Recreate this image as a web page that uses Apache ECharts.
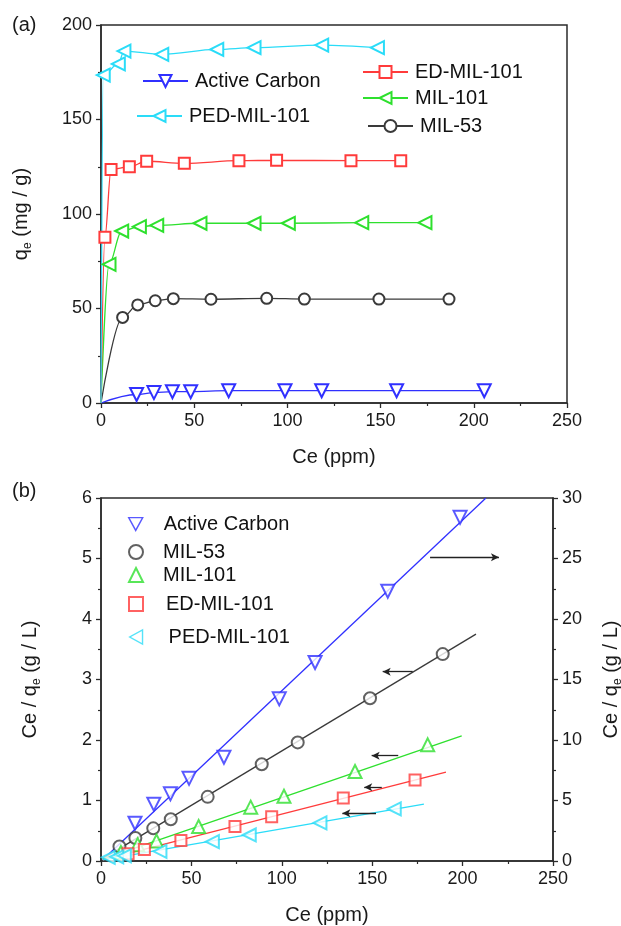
<!DOCTYPE html>
<html>
<head>
<meta charset="utf-8">
<script src="https://cdn.jsdelivr.net/npm/echarts@6/dist/echarts.min.js"></script>
<style>
  html, body { margin: 0; padding: 0; background: #fff; }
  #chart { width: 621px; height: 926px; }
</style>
</head>
<body>
<div id="chart"></div>
<script>
// ---- (a) adsorption isotherms: [Ce (ppm), qe (mg/g)] ----
const isoActiveCarbon = [[0, 0], [19.1, 4.5], [28.4, 5.5], [38.3, 6.0], [48.1, 6.0], [68.5, 6.5], [98.7, 6.5], [118.4, 6.5], [158.6, 6.5], [205.6, 6.5]];
const isoPED = [[0, 0], [1.2, 173.5], [9.3, 179.4], [12.3, 186.2], [32.6, 184.5], [62.1, 187.1], [82.1, 188.0], [118.4, 189.4], [148.3, 188.0]];
const isoED = [[0, 0], [2.1, 87.7], [5.4, 123.6], [15.2, 125.0], [24.5, 127.9], [44.7, 126.8], [74.0, 128.2], [94.2, 128.4], [134.1, 128.2], [160.8, 128.2]];
const isoMIL101 = [[0, 0], [4.3, 73.4], [11.1, 91.0], [20.6, 93.3], [29.9, 94.0], [53.1, 95.1], [82.1, 95.1], [100.5, 95.1], [139.9, 95.4], [173.8, 95.4]];
const isoMIL53 = [[0, 0], [11.6, 45.3], [19.7, 51.9], [29.1, 54.1], [38.8, 55.2], [59.0, 54.9], [88.9, 55.4], [109.1, 55.0], [149.1, 55.0], [186.7, 55.0]];

// ---- (b) Langmuir plots: [Ce (ppm), Ce/qe (g/L)] ----
const linActiveCarbon = [[18.8, 3.12], [29.2, 4.7], [38.4, 5.55], [48.7, 6.83], [68.0, 8.57], [98.6, 13.4], [118.4, 16.4], [158.6, 22.3], [198.6, 28.4]]; // right axis
const linMIL53 = [[10.2, 0.24], [19.0, 0.38], [28.9, 0.54], [38.6, 0.69], [59.0, 1.06], [88.9, 1.60], [108.8, 1.96], [148.8, 2.69], [189.0, 3.42]];
const linMIL101 = [[11.0, 0.14], [20.3, 0.27], [30.7, 0.33], [54.0, 0.57], [82.8, 0.89], [101.2, 1.07], [140.5, 1.48], [180.7, 1.92]];
const linED = [[15.0, 0.12], [24.0, 0.19], [44.2, 0.34], [74.1, 0.57], [94.4, 0.73], [134.0, 1.04], [173.7, 1.34]];
const linPED = [[4.0, 0.06], [8.7, 0.07], [12.9, 0.085], [32.6, 0.16], [61.6, 0.32], [82.0, 0.43], [121.1, 0.63], [162.2, 0.86]];

// linear fit segments (start, end)
const fitActiveCarbon = [[1.0, 0.1], [212.9, 30]];
const fitMIL53 = [[1.0, 0.04], [207.4, 3.75]];
const fitMIL101 = [[1.0, 0.03], [199.5, 2.07]];
const fitED = [[1.0, 0.02], [190.8, 1.47]];
const fitPED = [[1.0, 0.02], [178.6, 0.94]];

// arrows pointing to the axis each fit belongs to: [x from, x to, y] on left-axis scale
const axisArrows = [[182.0, 220.1, 5.02], [172.4, 155.8, 3.13], [164.4, 149.7, 1.74], [155.3, 145.6, 1.22], [152.1, 133.5, 0.79]];

const xTicks = { min: 0, max: 250, interval: 50 };
const yTicksA = { min: 0, max: 200, interval: 50 };
const yTicksB = { min: 0, max: 6, interval: 1 };
const yTicksB2 = { min: 0, max: 30, interval: 5 };

const C = {
  blue: '#3030ff',
  cyan: '#2adcf8',
  red: '#ff3b3b',
  green: '#2ee02e',
  black: '#3a3a3a'
};
const FONT = 'Liberation Sans, Arial, sans-serif';
const AX = '#2b2b2b';

// hollow legend glyphs for the rotated triangles of panel (b)
const ICON_DOWN = 'path://M0,0 L12,0 L6,11 Z';
const ICON_LEFT = 'path://M11,0 L11,12 L0,6 Z';

function axisCommon(gridIndex, t) {
  return {
    gridIndex,
    min: t.min, max: t.max, interval: t.interval,
    axisLine: { show: true, lineStyle: { color: AX, width: 1.5 } },
    axisTick: { show: true, inside: false, length: 5, lineStyle: { color: AX, width: 1.3 } },
    minorTick: { show: true, splitNumber: 2, length: 3, lineStyle: { color: AX, width: 1.2 } },
    splitLine: { show: false },
    axisLabel: { color: '#1a1a1a', fontSize: 18, fontFamily: FONT, margin: 9 }
  };
}

const nameRich = {
  a: { fontSize: 20, fontFamily: FONT, color: '#1a1a1a', lineHeight: 26 },
  b: { fontSize: 12, fontFamily: FONT, color: '#1a1a1a', lineHeight: 12, verticalAlign: 'bottom' }
};

function isoSeries(name, data, color, symbol, rotate, size) {
  return {
    name: 'a:' + name, type: 'line', xAxisIndex: 0, yAxisIndex: 0,
    data: data.map((p, i) => i === 0 ? { value: p, symbol: 'none' } : p),
    smooth: 0.35, smoothMonotone: 'x',
    symbol, symbolRotate: rotate, symbolSize: size,
    showAllSymbol: true,
    lineStyle: { color, width: 1.3 },
    itemStyle: { color, borderWidth: 1.3 },
    emphasis: { disabled: true },
    z: 3
  };
}

function linScatter(name, data, color, symbol, rotate, size, yIdx) {
  return {
    name: 'b:' + name, type: 'scatter', xAxisIndex: 1, yAxisIndex: yIdx,
    data, symbol, symbolRotate: rotate, symbolSize: size,
    itemStyle: { color, borderWidth: 1.3 },
    emphasis: { disabled: true },
    z: 4
  };
}

function fitLine(data, color, yIdx, extra) {
  return Object.assign({
    type: 'line', xAxisIndex: 1, yAxisIndex: yIdx, data,
    symbol: 'none', lineStyle: { color, width: 1.3 },
    emphasis: { disabled: true }, clip: true, z: 2
  }, extra || {});
}

function legendAt(item, left, top, w, h, textGap) {
  return {
    data: [item], left, top, orient: 'horizontal',
    itemWidth: w, itemHeight: h, itemGap: 0, padding: 0,
    selectedMode: false,
    formatter: n => n.slice(2),
    textStyle: { fontSize: 20, fontFamily: FONT, color: '#111', padding: [0, 0, 0, textGap] }
  };
}

const arrowData = axisArrows.map(a => [{ coord: [a[0], a[2]] }, { coord: [a[1], a[2]] }]);

const option = {
  animation: false,
  backgroundColor: '#fff',
  graphic: [
    { type: 'text', left: 12, top: 15, style: { text: '(a)', fontSize: 20, fontFamily: FONT, fill: '#1a1a1a' } },
    { type: 'text', left: 12, top: 481, style: { text: '(b)', fontSize: 20, fontFamily: FONT, fill: '#1a1a1a' } }
  ],
  grid: [
    { left: 101, top: 25, width: 466, height: 378, show: true, borderColor: AX, borderWidth: 1.5, backgroundColor: 'transparent', containLabel: false, outerBoundsMode: 'none' },
    { left: 101, top: 498, width: 452, height: 363, show: true, borderColor: AX, borderWidth: 1.5, backgroundColor: 'transparent', containLabel: false, outerBoundsMode: 'none' }
  ],
  xAxis: [
    Object.assign(axisCommon(0, xTicks), {
      type: 'value', name: 'Ce (ppm)', nameLocation: 'middle', nameGap: 44,
      nameTextStyle: { fontSize: 20, fontFamily: FONT, color: '#1a1a1a' }
    }),
    Object.assign(axisCommon(1, xTicks), {
      type: 'value', name: 'Ce (ppm)', nameLocation: 'middle', nameGap: 44,
      nameTextStyle: { fontSize: 20, fontFamily: FONT, color: '#1a1a1a' }
    })
  ],
  yAxis: [
    Object.assign(axisCommon(0, yTicksA), {
      type: 'value', name: '{a|q}{b|e}{a| (mg / g)}', nameLocation: 'middle', nameRotate: 90, nameGap: 67,
      nameTextStyle: { rich: nameRich }
    }),
    Object.assign(axisCommon(1, yTicksB), {
      type: 'value', name: '{a|Ce / q}{b|e}{a| (g / L)}', nameLocation: 'middle', nameRotate: 90, nameGap: 58,
      nameTextStyle: { rich: nameRich }
    }),
    Object.assign(axisCommon(1, yTicksB2), {
      type: 'value', position: 'right', name: '{a|Ce / q}{b|e}{a| (g / L)}', nameLocation: 'middle', nameRotate: 90, nameGap: 45,
      nameTextStyle: { rich: nameRich }
    })
  ],
  legend: [
    legendAt('a:Active Carbon', 142, 71, 45, 15, 2),
    legendAt('a:PED-MIL-101', 136, 106, 45, 15, 2),
    legendAt('a:ED-MIL-101', 362, 62, 45, 15, 2),
    legendAt('a:MIL-101', 362, 88, 45, 15, 2),
    legendAt('a:MIL-53', 367, 116, 45, 15, 2),
    legendAt({ name: 'b:Active Carbon', icon: ICON_DOWN, itemStyle: { color: '#fff', borderColor: C.blue, borderWidth: 1.4 } }, 128, 514, 14, 13, 16),
    legendAt('b:MIL-53', 128, 542, 14, 14, 15),
    legendAt('b:MIL-101', 128, 565, 14, 14, 15),
    legendAt('b:ED-MIL-101', 128, 594, 14, 14, 18),
    legendAt({ name: 'b:PED-MIL-101', icon: ICON_LEFT, itemStyle: { color: '#fff', borderColor: C.cyan, borderWidth: 1.4 } }, 129, 627, 13, 14, 21)
  ],
  series: [
    // (a)
    isoSeries('Active Carbon', isoActiveCarbon, C.blue, 'emptyTriangle', 180, 13),
    isoSeries('MIL-53', isoMIL53, C.black, 'emptyCircle', 0, 11),
    isoSeries('MIL-101', isoMIL101, C.green, 'emptyTriangle', 90, 13),
    isoSeries('ED-MIL-101', isoED, C.red, 'emptyRect', 0, 11),
    isoSeries('PED-MIL-101', isoPED, C.cyan, 'emptyTriangle', 90, 13),
    // (b) fits
    fitLine(fitActiveCarbon, C.blue, 2),
    fitLine(fitMIL53, C.black, 1, {
      markLine: {
        silent: true, symbol: ['none', 'arrow'], symbolSize: [6, 8], precision: 3,
        label: { show: false },
        lineStyle: { color: '#222', width: 1.3, type: 'solid' },
        emphasis: { disabled: true },
        data: arrowData
      }
    }),
    fitLine(fitMIL101, C.green, 1),
    fitLine(fitED, C.red, 1),
    fitLine(fitPED, C.cyan, 1),
    // (b) points
    linScatter('Active Carbon', linActiveCarbon, C.blue, 'emptyTriangle', 180, 13, 2),
    linScatter('MIL-53', linMIL53, C.black, 'emptyCircle', 0, 12, 1),
    linScatter('MIL-101', linMIL101, C.green, 'emptyTriangle', 0, 13, 1),
    linScatter('ED-MIL-101', linED, C.red, 'emptyRect', 0, 11, 1),
    linScatter('PED-MIL-101', linPED, C.cyan, 'emptyTriangle', 90, 13, 1)
  ]
};

const chart = echarts.init(document.getElementById('chart'), null, { renderer: 'canvas' });
chart.setOption(option);
</script>
</body>
</html>
